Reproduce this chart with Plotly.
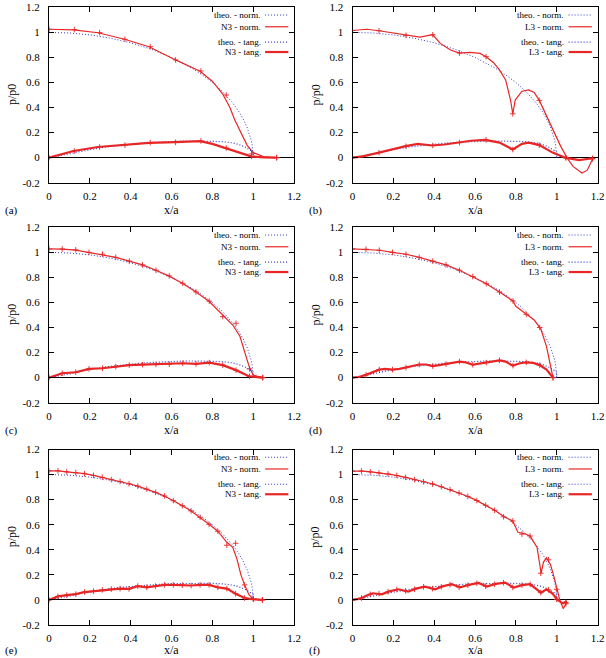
import plotly.graph_objects as go

# ---------------- data ----------------
theo_x = [0, 0.1, 0.2, 0.3, 0.4, 0.5, 0.6, 0.7, 0.75, 0.8, 0.85, 0.9, 0.93, 0.95, 0.97, 0.98, 0.99, 0.995, 1.0]
theo_norm = [1.0, 0.995, 0.98, 0.954, 0.917, 0.866, 0.8, 0.714, 0.661, 0.6, 0.527, 0.436, 0.368, 0.312, 0.243, 0.199, 0.141, 0.1, 0.0]
theo_tx = [0, 0.05, 0.1, 0.15, 0.2, 0.25, 0.3, 0.35, 0.4, 0.45, 0.5, 0.55, 0.6, 0.65, 0.7, 0.75, 0.8, 0.85, 0.9, 0.93, 0.96, 0.98, 1.0, 1.0]
theo_tang = [0, 0.013, 0.03, 0.048, 0.064, 0.078, 0.09, 0.1, 0.108, 0.115, 0.121, 0.126, 0.13, 0.132, 0.133, 0.133, 0.132, 0.128, 0.118, 0.105, 0.085, 0.065, 0.045, 0.0]

# (a) N3
a_nx = [0, 0.06, 0.12, 0.24, 0.37, 0.49, 0.62, 0.74, 0.8, 0.85, 0.886, 0.91, 0.94, 0.97, 1.0, 1.05, 1.11]
a_ny = [1.025, 1.025, 1.02, 0.997, 0.945, 0.885, 0.78, 0.69, 0.61, 0.51, 0.4, 0.3, 0.2, 0.1, 0.04, 0.008, 0.0]
a_tx = [0, 0.06, 0.12, 0.24, 0.37, 0.49, 0.62, 0.74, 0.8, 0.864, 0.93, 0.99, 1.05, 1.11]
a_ty = [0, 0.028, 0.053, 0.085, 0.102, 0.118, 0.124, 0.132, 0.11, 0.077, 0.04, 0.01, 0.002, 0.0]
a_mx = [0, 0.124, 0.248, 0.372, 0.496, 0.62, 0.744, 0.868, 0.992, 1.115]
a_mn = [1.025, 1.022, 0.998, 0.945, 0.886, 0.78, 0.692, 0.5, 0.03, 0.0]
a_mt = [0, 0.053, 0.085, 0.1, 0.12, 0.122, 0.133, 0.077, 0.01, 0.0]

# (b) L3
b_nx = [0, 0.07, 0.13, 0.2, 0.262, 0.33, 0.393, 0.43, 0.48, 0.524, 0.576, 0.625, 0.654, 0.69, 0.72, 0.75, 0.774, 0.785,
        0.797, 0.83, 0.863, 0.89, 0.915, 0.95, 0.989, 1.02, 1.05, 1.08, 1.124, 1.15, 1.176]
b_ny = [1.015, 1.025, 1.013, 0.995, 0.976, 0.962, 0.981, 0.912, 0.859, 0.835, 0.84, 0.832, 0.806, 0.76, 0.70, 0.62, 0.46, 0.35,
        0.46, 0.53, 0.54, 0.52, 0.457, 0.33, 0.2, 0.09, 0.0, -0.07, -0.122, -0.1, -0.01]
b_tx = [0, 0.05, 0.13, 0.2, 0.26, 0.32, 0.39, 0.45, 0.52, 0.58, 0.65, 0.72, 0.785, 0.83, 0.863, 0.915, 0.98, 1.04, 1.11, 1.176]
b_ty = [0, 0.01, 0.04, 0.07, 0.092, 0.11, 0.097, 0.105, 0.12, 0.135, 0.142, 0.12, 0.065, 0.11, 0.12, 0.1, 0.04, 0.0, -0.02, -0.005]
b_mx = [0, 0.13, 0.262, 0.393, 0.524, 0.654, 0.785, 0.915, 1.045, 1.176]
b_mn = [1.015, 1.013, 0.976, 0.981, 0.835, 0.806, 0.35, 0.457, 0.0, -0.01]
b_mt = [0, 0.04, 0.09, 0.097, 0.12, 0.142, 0.065, 0.1, 0.0, -0.005]

# (c) N3
c_nx = [0, 0.065, 0.131, 0.196, 0.262, 0.327, 0.393, 0.458, 0.524, 0.589, 0.655, 0.72, 0.785, 0.851, 0.9, 0.935, 0.96, 0.98, 1.0, 1.047]
c_ny = [1.027, 1.026, 1.018, 1.0, 0.984, 0.96, 0.93, 0.9, 0.857, 0.81, 0.752, 0.684, 0.608, 0.5, 0.42, 0.33, 0.2, 0.09, 0.02, 0.0]
c_mx = [0, 0.065, 0.131, 0.196, 0.262, 0.327, 0.393, 0.458, 0.524, 0.589, 0.655, 0.72, 0.785, 0.851, 0.916, 0.982, 1.047]
c_mn = [1.027, 1.027, 1.02, 1.0, 0.985, 0.96, 0.93, 0.9, 0.857, 0.812, 0.753, 0.684, 0.61, 0.487, 0.434, 0.07, 0.0]
c_mt = [0, 0.035, 0.043, 0.07, 0.075, 0.088, 0.1, 0.104, 0.106, 0.107, 0.115, 0.11, 0.12, 0.1, 0.06, 0.01, 0.0]

# (d) L3
d_nx = [0, 0.066, 0.131, 0.196, 0.262, 0.327, 0.393, 0.458, 0.524, 0.589, 0.655, 0.72, 0.786, 0.8, 0.83, 0.857, 0.89, 0.922, 0.95, 0.97, 0.982]
d_ny = [1.027, 1.025, 1.017, 1.0, 0.985, 0.96, 0.93, 0.9, 0.857, 0.807, 0.75, 0.683, 0.612, 0.57, 0.53, 0.5, 0.46, 0.39, 0.25, 0.1, 0.0]
d_tx = [0, 0.03, 0.066, 0.1, 0.131, 0.16, 0.196, 0.23, 0.262, 0.295, 0.327, 0.36, 0.393, 0.425, 0.458, 0.49, 0.524, 0.555,
        0.589, 0.62, 0.655, 0.69, 0.72, 0.75, 0.786, 0.82, 0.851, 0.885, 0.917, 0.95, 0.982]
d_ty = [0, 0.005, 0.022, 0.045, 0.064, 0.07, 0.064, 0.07, 0.08, 0.095, 0.105, 0.105, 0.092, 0.1, 0.108, 0.12, 0.128, 0.122,
        0.103, 0.112, 0.12, 0.132, 0.138, 0.128, 0.096, 0.115, 0.122, 0.118, 0.1, 0.065, 0.0]
d_mx = [0, 0.066, 0.131, 0.196, 0.262, 0.327, 0.393, 0.458, 0.524, 0.589, 0.655, 0.72, 0.786, 0.851, 0.917, 0.982]
d_mn = [1.027, 1.025, 1.017, 1.0, 0.985, 0.96, 0.93, 0.9, 0.857, 0.807, 0.75, 0.683, 0.612, 0.505, 0.4, 0.0]
d_mt = [0, 0.022, 0.064, 0.064, 0.08, 0.105, 0.092, 0.108, 0.128, 0.103, 0.12, 0.138, 0.096, 0.122, 0.1, 0.0]

# (e) N3
e_nx = [0, 0.044, 0.087, 0.131, 0.174, 0.218, 0.261, 0.305, 0.348, 0.392, 0.435, 0.479, 0.522, 0.566, 0.609, 0.653, 0.696,
        0.74, 0.784, 0.827, 0.871, 0.9, 0.92, 0.94, 0.958, 0.98, 1.001, 1.045]
e_ny = [1.03, 1.03, 1.022, 1.015, 1.007, 0.993, 0.978, 0.96, 0.945, 0.927, 0.908, 0.884, 0.858, 0.829, 0.792, 0.752, 0.71,
        0.659, 0.603, 0.548, 0.46, 0.42, 0.33, 0.2, 0.12, 0.04, 0.007, 0.0]
e_mx = [0, 0.044, 0.087, 0.131, 0.174, 0.218, 0.261, 0.305, 0.348, 0.392, 0.435, 0.479, 0.522, 0.566, 0.609, 0.653, 0.696,
        0.74, 0.784, 0.827, 0.871, 0.914, 0.958, 1.001, 1.045]
e_mn = [1.03, 1.03, 1.022, 1.015, 1.007, 0.993, 0.978, 0.96, 0.945, 0.927, 0.908, 0.884, 0.858, 0.829, 0.792, 0.752, 0.71,
        0.659, 0.603, 0.548, 0.436, 0.452, 0.12, 0.007, 0.0]
e_mt = [0, 0.028, 0.038, 0.046, 0.063, 0.07, 0.08, 0.086, 0.09, 0.088, 0.11, 0.1, 0.11, 0.12, 0.12, 0.118, 0.115,
        0.12, 0.12, 0.1, 0.09, 0.05, 0.015, 0.005, 0.0]

# (f) L3
f_nx = [0, 0.05, 0.1, 0.15, 0.2, 0.26, 0.3, 0.35, 0.4, 0.45, 0.5, 0.55, 0.6, 0.65, 0.7, 0.74, 0.785, 0.81, 0.84, 0.87,
        0.904, 0.924, 0.935, 0.95, 0.97, 0.986, 1.0, 1.015, 1.032, 1.052]
f_ny = [1.028, 1.028, 1.02, 1.01, 0.997, 0.978, 0.96, 0.943, 0.923, 0.895, 0.867, 0.835, 0.8, 0.757, 0.712, 0.665, 0.63,
        0.54, 0.53, 0.51, 0.418, 0.213, 0.3, 0.338, 0.28, 0.19, 0.085, 0.0, -0.069, -0.016]
f_tx = [0, 0.036, 0.07, 0.1, 0.143, 0.18, 0.224, 0.273, 0.31, 0.355, 0.405, 0.44, 0.486, 0.527, 0.57, 0.617, 0.658, 0.7,
        0.748, 0.79, 0.83, 0.87, 0.923, 0.95, 0.98, 1.004, 1.03, 1.05]
f_ty = [0, 0.01, 0.035, 0.053, 0.045, 0.068, 0.085, 0.066, 0.09, 0.106, 0.085, 0.108, 0.125, 0.1, 0.12, 0.135, 0.107, 0.128,
        0.138, 0.098, 0.118, 0.125, 0.058, 0.085, 0.05, 0.0, -0.027, -0.01]
f_mnx = [0, 0.044, 0.087, 0.13, 0.174, 0.217, 0.26, 0.304, 0.348, 0.392, 0.435, 0.478, 0.522, 0.565, 0.609, 0.652, 0.696,
         0.74, 0.785, 0.83, 0.87, 0.922, 0.96, 1.0, 1.045]
f_mn = [1.028, 1.028, 1.022, 1.013, 1.005, 0.993, 0.978, 0.96, 0.943, 0.925, 0.903, 0.88, 0.853, 0.826, 0.793, 0.755, 0.715,
        0.663, 0.63, 0.525, 0.51, 0.213, 0.32, 0.085, -0.03]
f_mt = [0, 0.015, 0.045, 0.05, 0.065, 0.083, 0.072, 0.085, 0.104, 0.09, 0.105, 0.122, 0.102, 0.118, 0.133, 0.11, 0.125,
        0.137, 0.1, 0.118, 0.124, 0.058, 0.08, 0.005, -0.02]

x_ticks = [0, 0.2, 0.4, 0.6, 0.8, 1.0, 1.2]
x_ticktext = ["0", "0.2", "0.4", "0.6", "0.8", "1", "1.2"]
y_ticks = [-0.2, 0, 0.2, 0.4, 0.6, 0.8, 1.0, 1.2]
y_ticktext = ["-0.2", "0", "0.2", "0.4", "0.6", "0.8", "1", "1.2"]

panels = [
    dict(tag="(a)", name="N3", nx=a_nx, ny=a_ny, tx=a_tx, ty=a_ty, mnx=a_mx, mn=a_mn, mtx=a_mx, mt=a_mt),
    dict(tag="(b)", name="L3", nx=b_nx, ny=b_ny, tx=b_tx, ty=b_ty, mnx=b_mx, mn=b_mn, mtx=b_mx, mt=b_mt),
    dict(tag="(c)", name="N3", nx=c_nx, ny=c_ny, tx=c_mx, ty=c_mt, mnx=c_mx, mn=c_mn, mtx=c_mx, mt=c_mt),
    dict(tag="(d)", name="L3", nx=d_nx, ny=d_ny, tx=d_tx, ty=d_ty, mnx=d_mx, mn=d_mn, mtx=d_mx, mt=d_mt),
    dict(tag="(e)", name="N3", nx=e_nx, ny=e_ny, tx=e_mx, ty=e_mt, mnx=e_mx, mn=e_mn, mtx=e_mx, mt=e_mt),
    dict(tag="(f)", name="L3", nx=f_nx, ny=f_ny, tx=f_tx, ty=f_ty, mnx=f_mnx, mn=f_mn, mtx=f_mnx, mt=f_mt),
]

# ---------------- styling / layout ----------------
W, H = 606, 658
RED = "rgb(232,38,38)"
BLUE = "rgb(50,60,200)"
FONT = "Liberation Serif"
DOT = "1px,2px"

col_px = [(49, 294), (352.5, 597.5)]
row_px = [(7.3, 182.7), (227.3, 402.7), (449.5, 625.0)]
label_y = [210, 430, 650]

fig = go.Figure()
layout = dict(template="none", width=W, height=H, margin=dict(l=0, r=0, t=0, b=0, autoexpand=False),
              paper_bgcolor="white", plot_bgcolor="white", showlegend=False,
              font=dict(family=FONT, size=11, color="black"))
annotations = []
shapes = []

for i, p in enumerate(panels):
    r, c = divmod(i, 2)
    k = "" if i == 0 else str(i + 1)
    xa, ya = "x" + k, "y" + k
    x0, x1 = col_px[c]
    y0, y1 = row_px[r]
    layout["xaxis" + k] = dict(domain=[x0 / W, x1 / W], anchor=ya, range=[0, 1.2], tickvals=x_ticks,
                               ticktext=x_ticktext, ticks="inside", ticklen=5, tickcolor="black", mirror="ticks",
                               showline=True, linecolor="black", linewidth=1, showgrid=False, zeroline=False,
                               automargin=False, tickfont=dict(family=FONT, size=11), ticklabelstandoff=3)
    layout["yaxis" + k] = dict(domain=[1 - y1 / H, 1 - y0 / H], anchor=xa, range=[-0.2, 1.2], tickvals=y_ticks,
                               ticktext=y_ticktext, ticks="inside", ticklen=5, tickcolor="black", mirror="ticks",
                               showline=True, linecolor="black", linewidth=1, showgrid=False, zeroline=True,
                               zerolinecolor="black", zerolinewidth=1, automargin=False,
                               tickfont=dict(family=FONT, size=11), ticklabelstandoff=6)

    fig.add_trace(go.Scatter(x=theo_x, y=theo_norm, mode="lines", xaxis=xa, yaxis=ya,
                             line=dict(color=BLUE, width=1, dash=DOT)))
    fig.add_trace(go.Scatter(x=p["nx"], y=p["ny"], mode="lines", xaxis=xa, yaxis=ya,
                             line=dict(color=RED, width=1.2)))
    fig.add_trace(go.Scatter(x=p["mnx"], y=p["mn"], mode="markers", xaxis=xa, yaxis=ya,
                             marker=dict(symbol="cross-thin", size=4, line=dict(color=RED, width=0.9))))
    fig.add_trace(go.Scatter(x=theo_tx, y=theo_tang, mode="lines", xaxis=xa, yaxis=ya,
                             line=dict(color=BLUE, width=1.2, dash=DOT)))
    fig.add_trace(go.Scatter(x=p["tx"], y=p["ty"], mode="lines", xaxis=xa, yaxis=ya,
                             line=dict(color=RED, width=2.2)))
    fig.add_trace(go.Scatter(x=p["mtx"], y=p["mt"], mode="markers", xaxis=xa, yaxis=ya,
                             marker=dict(symbol="cross-thin", size=4, line=dict(color=RED, width=0.9))))

    # legend (gnuplot style: right-aligned text, sample on the right)
    entries = [("theo. - norm.", BLUE, 1, DOT, 0.956),
               (p["name"] + " - norm.", RED, 1.2, "solid", 0.889),
               ("theo. - tang.", BLUE, 1.2, DOT, 0.802),
               (p["name"] + " - tang.", RED, 2.2, "solid", 0.745)]
    for txt, col, lw, dash, yy in entries:
        annotations.append(dict(text=txt, xref=xa + " domain", yref=ya + " domain", x=0.872, y=yy,
                                xanchor="right", yanchor="middle", showarrow=False,
                                font=dict(family=FONT, size=9, color="black")))
        shapes.append(dict(type="line", xref=xa + " domain", yref=ya + " domain", x0=0.882, x1=0.977,
                           y0=yy, y1=yy, line=dict(color=col, width=lw, dash=dash)))

    # axis titles and panel tag
    annotations.append(dict(text="x/a", xref="paper", yref="paper", x=(x0 + x1) / 2 / W, y=1 - label_y[r] / H,
                            xanchor="center", yanchor="middle", showarrow=False,
                            font=dict(family=FONT, size=12)))
    annotations.append(dict(text="p/p0", xref="paper", yref="paper", x=(x0 - 37) / W, y=1 - (y0 + y1) / 2 / H,
                            xanchor="center", yanchor="middle", showarrow=False, textangle=-90,
                            font=dict(family=FONT, size=12)))
    annotations.append(dict(text=p["tag"], xref="paper", yref="paper", x=(x0 - 46) / W, y=1 - label_y[r] / H,
                            xanchor="left", yanchor="middle", showarrow=False,
                            font=dict(family=FONT, size=11)))

layout["annotations"] = annotations
layout["shapes"] = shapes
fig.update_layout(**layout)
fig.write_html("out.html")
